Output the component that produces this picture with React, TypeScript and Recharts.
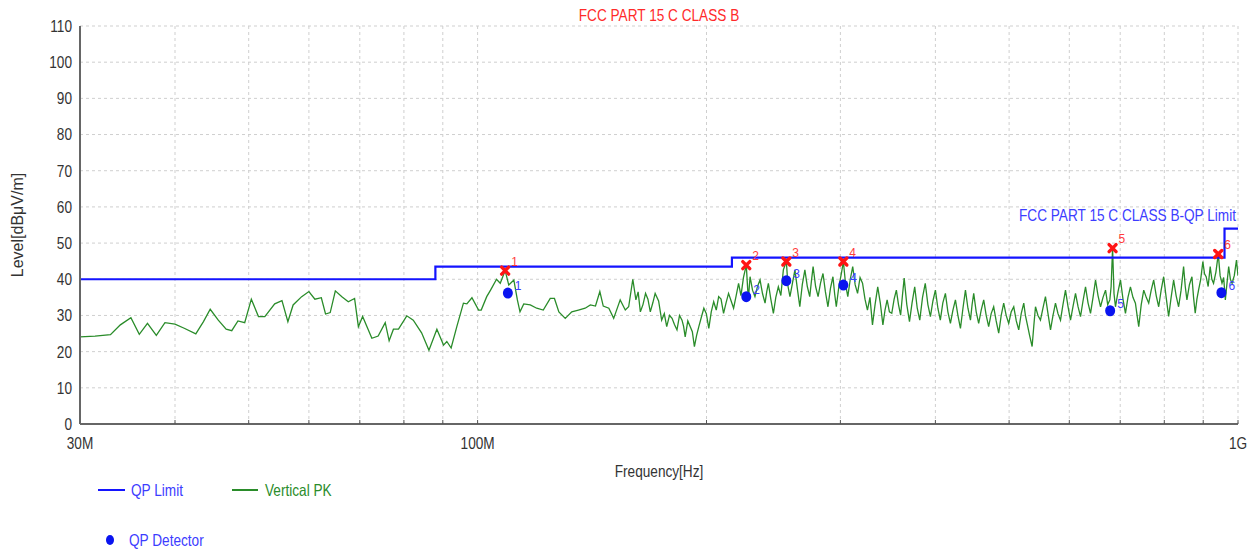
import React from 'react';
import { ComposedChart, Line, Scatter, XAxis, YAxis, CartesianGrid } from 'recharts';

const SANS = "'Liberation Sans', Arial, sans-serif";
const SX = 0.826; // horizontal condensing of the chart's text

// Vertical PK trace (frequency in MHz, level in dBuV/m)
const traceFreq = [
  30.0, 31.4, 32.9, 33.9, 35.0, 35.9, 36.8, 37.8, 38.8, 40.0, 41.2, 42.6, 43.6, 44.5, 45.6, 46.7, 47.5, 48.4, 49.4,
  50.4, 51.5, 52.5, 54.1, 55.3, 56.3, 57.2, 58.7, 60.0, 61.1, 62.3, 63.1, 64.0, 65.0, 66.3, 67.6, 68.9, 69.7, 70.6,
  72.6, 74.0, 75.6, 76.5, 77.5, 78.7, 80.7, 82.3, 84.4, 86.3, 88.4, 90.2, 91.1, 92.3, 93.9, 95.8, 96.8, 98.3, 100.3,
  101.1, 102.8, 104.0, 105.9, 107.1, 108.7, 109.9, 111.6, 112.8, 113.7, 115.0, 117.3, 119.6, 122.0, 124.6, 126.2,
  127.9, 130.4, 133.0, 135.7, 138.5, 140.7, 142.9, 144.8, 146.3, 148.8, 151.0, 154.0, 156.4, 158.0, 160.0, 161.5,
  162.6, 163.7, 165.0, 166.3, 167.5, 168.7, 170.0, 171.2, 173.0, 174.6, 176.0, 177.3, 178.8, 180.2, 181.5, 182.9,
  184.3, 185.7, 186.6, 187.5, 189.0, 190.4, 191.6, 192.8, 194.1, 195.4, 196.9, 198.4, 199.9, 201.4, 202.9, 204.4,
  206.0, 207.5, 209.0, 210.6, 212.2, 213.8, 215.5, 217.1, 218.8, 220.4,
  222.0, 223.7, 225.6, 227.0, 228.2, 229.9, 231.6, 233.4, 235.2, 237.0, 238.8, 240.0, 241.2, 243.0, 244.9, 246.7,
  248.6, 250.5, 252.4, 254.7, 256.0, 257.5, 259.5, 261.4, 263.3, 265.3, 267.3, 269.4, 271.4, 273.4, 274.8, 276.2,
  278.3, 280.4, 282.5, 284.6, 286.7, 288.9, 291.1, 293.3, 294.8, 296.3, 298.6, 300.9, 302.7, 304.8, 306.8, 309.1,
  311.4, 313.7, 316.0, 318.4, 320.8, 323.2, 325.6, 328.1, 330.6, 333.2, 335.9, 338.5, 341.2, 343.4, 345.6, 348.0,
  350.5, 353.0, 355.4, 357.7, 360.0, 362.0, 363.9, 366.8, 369.8, 372.7, 375.7, 378.6, 381.5, 384.7, 387.9, 391.0,
  394.0, 397.0, 400.0, 403.0, 406.0, 409.1, 412.3, 415.4, 418.6, 421.8, 425.0, 428.2, 431.5, 434.8, 438.1, 441.4,
  444.8, 447.0, 449.2, 452.6, 456.0, 459.5, 463.0, 466.5, 470.0, 473.6, 477.2, 480.8, 484.5, 488.2, 491.9, 495.6,
  499.4, 503.2, 507.1, 511.0, 514.8, 518.7, 522.7, 525.3, 528.0, 532.0, 536.1, 538.8, 541.6, 545.7, 549.8, 554.0,
  558.2, 562.5, 566.8, 571.1, 575.4, 579.8, 584.2, 588.6, 593.1, 597.6, 602.2, 606.8, 611.4, 616.0, 620.7, 625.4,
  630.2, 635.0, 639.8, 644.7, 649.6, 654.5, 659.5, 664.5, 669.6, 674.0, 678.3, 681.0, 684.0, 687.0, 690.0, 695.3,
  700.6, 705.9, 711.2, 716.6, 722.0, 727.5, 733.0, 736.7, 740.4, 746.0, 751.7, 757.4, 763.1, 768.9, 774.7, 780.6,
  786.5, 792.4, 798.4, 804.5, 810.6, 816.7, 822.9, 829.1, 835.4, 841.7, 848.1, 852.4, 856.7, 863.2, 869.8, 874.1,
  878.5, 883.0, 887.4, 893.2, 899.1, 903.6, 908.1, 913.6, 919.2, 923.9, 928.6, 935.3, 942.0, 947.3, 952.7, 957.5,
  962.4, 967.3, 972.2, 977.2, 982.3, 988.8, 995.4, 1000.0,
];
const traceLevel = [
  24.1, 24.3, 24.7, 27.4, 29.4, 24.8, 27.8, 24.5, 28.0, 27.6, 26.4, 24.9, 28.3, 31.7, 28.7, 26.2, 25.8, 28.5, 28.0,
  34.5, 29.7, 29.7, 33.2, 34.1, 28.3, 32.9, 35.2, 36.6, 34.5, 34.9, 30.4, 30.8, 36.8, 35.2, 33.8, 34.7, 26.9, 29.7,
  23.7, 24.3, 28.0, 23.0, 26.2, 26.2, 29.9, 28.7, 25.2, 20.4, 26.2, 21.8, 22.8, 21.0, 26.9, 33.4, 33.2, 34.9, 31.5,
  31.5, 35.2, 37.0, 40.0, 38.9, 42.4, 38.4, 39.8, 34.3, 31.0, 33.2, 32.9, 32.0, 31.5, 34.7, 34.7,
  31.0, 29.2, 31.0, 31.5, 32.0, 32.9, 32.6, 36.6, 32.6, 32.0, 29.2, 34.3, 31.5, 32.4, 40.0, 34.3,
  36.5, 31.0, 33.0, 36.1, 34.5, 31.0, 33.5, 36.1, 34.0, 28.7, 30.5, 26.9, 30.0, 29.2, 27.5, 26.0,
  30.0, 28.7, 27.0, 24.1, 28.5, 26.9, 25.5, 21.4, 24.5, 26.9, 29.5, 32.0, 30.5, 26.4, 31.0, 33.8,
  31.5, 35.2, 34.5, 30.6, 33.5, 36.1, 34.0, 32.0, 35.5, 38.9,
  35.5, 40.5, 43.9, 34.3, 40.7, 37.0, 35.2, 38.0, 39.8, 36.0, 33.4, 36.5, 38.9, 34.5, 30.6, 35.0,
  37.9, 35.5, 42.6, 44.9, 38.0, 35.2, 39.0, 42.6, 37.5, 32.4, 38.5, 42.6, 38.0, 35.2, 39.5, 43.5,
  38.0, 35.2, 39.0, 41.6, 36.5, 32.4, 37.5, 40.7, 36.0, 32.4, 38.0, 41.6, 44.9, 38.5, 35.2, 40.0,
  43.5, 38.5, 36.1, 40.5, 38.9, 34.5, 31.5, 35.0, 27.4, 33.0, 37.9, 33.5, 27.4, 31.5, 34.3, 31.0,
  30.6, 34.5, 37.0, 33.0, 30.1, 35.5, 40.3, 33.0, 28.3, 33.5, 37.9, 32.0, 28.7, 35.0, 38.9, 33.0,
  29.7, 34.0, 37.0, 32.0, 28.7, 33.5, 36.1, 31.0, 27.8, 31.5, 34.3, 30.0, 26.4, 32.0, 37.0, 32.0,
  28.7, 33.0, 36.1, 31.0, 27.8, 31.5, 34.3, 30.0, 26.9, 30.5, 32.4, 28.5, 25.1, 30.0, 33.4, 30.0,
  27.8, 31.0, 32.4, 28.5, 26.0, 30.5, 33.4, 30.0, 27.8, 24.5, 21.4, 27.0, 32.4, 30.0, 28.7, 32.0,
  35.2, 30.5, 26.0, 30.0, 33.4, 30.5, 28.7, 33.0, 37.0, 32.5, 28.7, 32.5, 36.1, 32.5, 29.7, 34.0,
  37.9, 33.5, 30.6, 35.0, 39.8, 35.5, 32.4, 35.0, 37.0, 33.0, 34.3, 38.0, 48.6, 36.0, 32.4, 36.5,
  39.8, 34.5, 30.6, 35.0, 37.9, 35.0, 33.4, 30.0, 26.9, 33.0, 37.0, 35.0, 33.4, 37.0, 39.8, 35.5,
  32.4, 37.0, 40.7, 35.0, 29.7, 35.0, 39.8, 35.5, 32.4, 37.0, 43.5, 38.0, 34.3, 38.5, 40.7, 35.0,
  30.6, 34.5, 37.0, 40.0, 44.9, 41.5, 40.7, 38.0, 43.5, 40.0, 38.9, 42.0, 47.0, 41.0, 38.9, 40.5,
  34.3, 39.0, 43.5, 40.0, 38.9, 41.0, 45.3, 41.0,
];

// QP limit (stepped)
const limitFreq = [30, 88, 88, 216, 216, 960, 960, 1000];
const limitLevel = [40, 40, 43.5, 43.5, 46, 46, 54, 54];

// Markers
const markerIds = [1, 2, 3, 4, 5, 6];
const peakFreq = [108.7, 225.6, 254.7, 302.7, 684.0, 942.0];
const peakLevel = [42.4, 43.9, 44.9, 44.9, 48.6, 47.0];
const qpFreq = [109.6, 225.6, 254.7, 302.7, 679.0, 951.0];
const qpLevel = [36.2, 35.2, 39.6, 38.4, 31.3, 36.3];

// Axes
const xTicks = [30, 40, 50, 60, 70, 80, 90, 100, 200, 300, 400, 500, 600, 700, 800, 900, 1000];
const xTickLabelValues = [30, 100, 1000];
const xTickLabelTexts = ['30M', '100M', '1G'];
const yTicks = [0, 10, 20, 30, 40, 50, 60, 70, 80, 90, 100, 110];

const traceData = traceFreq.map((f, i) => ({ freq: f, level: traceLevel[i] }));
const limitData = limitFreq.map((f, i) => ({ freq: f, level: limitLevel[i] }));
const peakData = peakFreq.map((f, i) => ({ freq: f, level: peakLevel[i], id: markerIds[i] }));
const qpData = qpFreq.map((f, i) => ({ freq: f, level: qpLevel[i], id: markerIds[i] }));

const fmtX = (v: number) => {
  const idx = xTickLabelValues.indexOf(v);
  return idx >= 0 ? xTickLabelTexts[idx] : '';
};

const PeakShape = (props: any) => {
  const { cx, cy, payload } = props;
  const s = 3.5;
  return (
    <g>
      <path
        d={`M${cx - s},${cy - s}L${cx + s},${cy + s}M${cx + s},${cy - s}L${cx - s},${cy + s}`}
        stroke="#ff1414"
        strokeWidth={3.4}
        strokeLinecap="round"
      />
      <text x={cx + 6} y={cy - 5} fill="#ff3c3c" fontSize={12} fontFamily={SANS}>
        {payload.id}
      </text>
    </g>
  );
};

const QpShape = (props: any) => {
  const { cx, cy, payload } = props;
  return (
    <g>
      <ellipse cx={cx} cy={cy} rx={5} ry={5.5} fill="#0a14f0" />
      <text x={cx + 7} y={cy - 3} fill="#3c3cff" fontSize={12} fontFamily={SANS}>
        {payload.id}
      </text>
    </g>
  );
};

const NarrowText = (p: any) => (
  <g transform={`translate(${p.x},${p.y})`}>
    <text
      x={0}
      y={0}
      dy={p.dy}
      transform={`scale(${SX},1)`}
      textAnchor={p.anchor || 'start'}
      fill={p.fill}
      fontSize={p.size || 16.5}
      fontFamily={SANS}
    >
      {p.children}
    </text>
  </g>
);

const XTick = (props: any) => {
  const label = fmtX(props.payload.value);
  if (!label) return <g />;
  return (
    <NarrowText x={props.x} y={props.y} anchor="middle" dy="0.71em" fill="#333">
      {label}
    </NarrowText>
  );
};

const YTick = (props: any) => (
  <NarrowText x={props.x} y={props.y} anchor="end" dy="0.36em" fill="#333">
    {String(props.payload.value)}
  </NarrowText>
);

export default function App() {
  return (
    <div style={{ position: 'absolute', left: 0, top: 0, width: 1253, height: 552, background: '#fff' }}>
      <ComposedChart width={1253} height={552} margin={{ top: 26, right: 15, bottom: 98, left: 40 }}>
        <CartesianGrid strokeDasharray="3 3" stroke="#cfcfcf" />
        <XAxis
          dataKey="freq"
          type="number"
          scale="log"
          domain={[30, 1000]}
          allowDataOverflow
          ticks={xTicks}
          interval={0}
          tickFormatter={fmtX}
          height={30}
          axisLine={{ stroke: '#666', strokeWidth: 2 }}
          tickLine={{ stroke: '#555' }}
          tickSize={-4}
          tickMargin={17}
          tick={XTick}
        />
        <YAxis
          dataKey="level"
          type="number"
          domain={[0, 110]}
          ticks={yTicks}
          interval={0}
          width={40}
          axisLine={{ stroke: '#666', strokeWidth: 2 }}
          tickLine={false}
          tickMargin={2}
          tick={YTick}
        />
        <Line
          data={traceData}
          dataKey="level"
          type="linear"
          stroke="#2a8c2a"
          strokeWidth={1.3}
          dot={false}
          isAnimationActive={false}
        />
        <Line
          data={limitData}
          dataKey="level"
          type="linear"
          stroke="#1414ff"
          strokeWidth={2.2}
          dot={false}
          isAnimationActive={false}
        />
        <Scatter data={peakData} dataKey="level" shape={PeakShape} isAnimationActive={false} />
        <Scatter data={qpData} dataKey="level" shape={QpShape} isAnimationActive={false} />
      </ComposedChart>

      <svg
        width={1253}
        height={552}
        style={{ position: 'absolute', left: 0, top: 0, pointerEvents: 'none' }}
      >
        <NarrowText x={659} y={21} anchor="middle" fill="#ff2a2a">FCC PART 15 C CLASS B</NarrowText>
        <NarrowText x={1236} y={221} anchor="end" fill="#3c3cff">FCC PART 15 C CLASS B-QP Limit</NarrowText>
        <NarrowText x={659} y={477} anchor="middle" fill="#333">Frequency[Hz]</NarrowText>
        <text
          x={23}
          y={225}
          textAnchor="middle"
          fill="#333"
          fontSize={16}
          fontFamily={SANS}
          transform="rotate(-90 23 225)"
        >
          Level[dBμV/m]
        </text>
        {/* legend */}
        <line x1={98} y1={490} x2={125} y2={490} stroke="#1414ff" strokeWidth={2} />
        <NarrowText x={131} y={496} fill="#3c3cff">QP Limit</NarrowText>
        <line x1={232} y1={490} x2={258} y2={490} stroke="#2a8c2a" strokeWidth={2} />
        <NarrowText x={265} y={496} fill="#2a8c2a">Vertical PK</NarrowText>
        <ellipse cx={110} cy={540} rx={4} ry={5} fill="#0a14f0" />
        <NarrowText x={129} y={546} fill="#3c3cff">QP Detector</NarrowText>
      </svg>
    </div>
  );
}
